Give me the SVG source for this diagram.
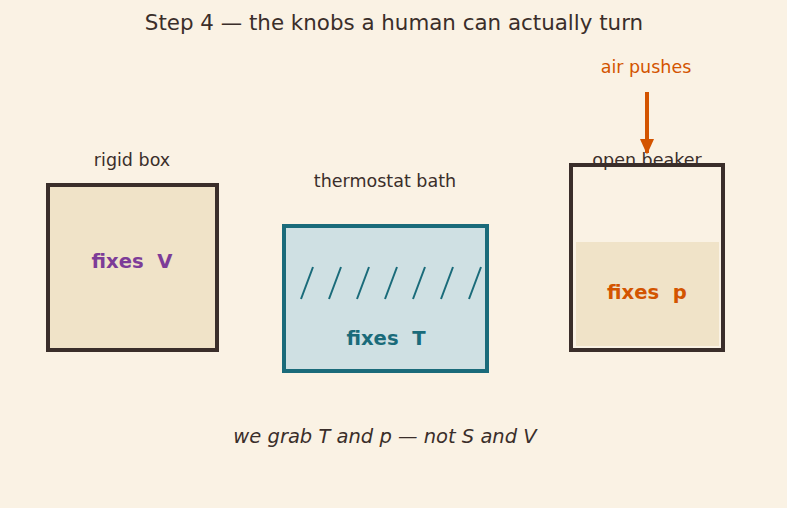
<svg xmlns="http://www.w3.org/2000/svg" width="787" height="508" viewBox="0 0 787 508">
<defs>
<style>
text{font-family:"DejaVu Sans",sans-serif;white-space:pre}
.lbl{font-size:17.5px;fill:#3a2e2a;text-anchor:middle}
.big{font-size:19.6px;font-weight:bold;text-anchor:middle}
.hatch{stroke:#1a6b7a;stroke-width:2}
</style>
<marker id="ah" viewBox="0 0 10 10" refX="9" refY="5" markerWidth="4" markerHeight="4" orient="auto" markerUnits="strokeWidth">
<path d="M0,0.5 L10,5 L0,9.5 z" fill="#d35400"/>
</marker>
</defs>
<rect width="787" height="508" fill="#faf2e4"/>
<text x="394" y="30" style="font-size:21.4px;fill:#3a2e2a;text-anchor:middle">Step 4 — the knobs a human can actually turn</text>
<g id="rigid-box">
<rect x="48" y="185" width="169" height="165" fill="#f0e3c8" stroke="#3a2e2a" stroke-width="4"/>
<text class="lbl" x="132" y="166">rigid box</text>
<text class="big" x="132" y="268" fill="#7d3c98">fixes  V</text>
</g>
<g id="thermostat-bath">
<rect x="284" y="226" width="203" height="145" fill="#cfe0e3" stroke="#1a6b7a" stroke-width="4"/>
<text class="lbl" x="385" y="187">thermostat bath</text>
<path class="hatch" d="M301,299 L313,267 M329,299 L341,267 M357,299 L369,267 M385,299 L397,267 M413,299 L425,267 M441,299 L453,267 M469,299 L481,267"/>
<text class="big" x="386" y="345" fill="#1a6b7a">fixes  T</text>
</g>
<g id="open-beaker">
<rect x="576" y="242" width="143" height="104" fill="#f0e3c8"/>
<rect x="571" y="165" width="152" height="185" fill="none" stroke="#3a2e2a" stroke-width="4"/>
<text class="lbl" x="647" y="166">open beaker</text>
<text class="big" x="647" y="299" fill="#d35400">fixes  p</text>
</g>
<g id="air">
<text x="646" y="73" style="font-size:17.5px;fill:#d35400;text-anchor:middle">air pushes</text>
</g>
<g id="connectors">
<line x1="647" y1="92" x2="647" y2="153" stroke="#d35400" stroke-width="4" marker-end="url(#ah)"/>
</g>
<text x="385" y="443" style="font-size:19.5px;font-style:italic;fill:#3a2e2a;text-anchor:middle">we grab T and p — not S and V</text>
</svg>
